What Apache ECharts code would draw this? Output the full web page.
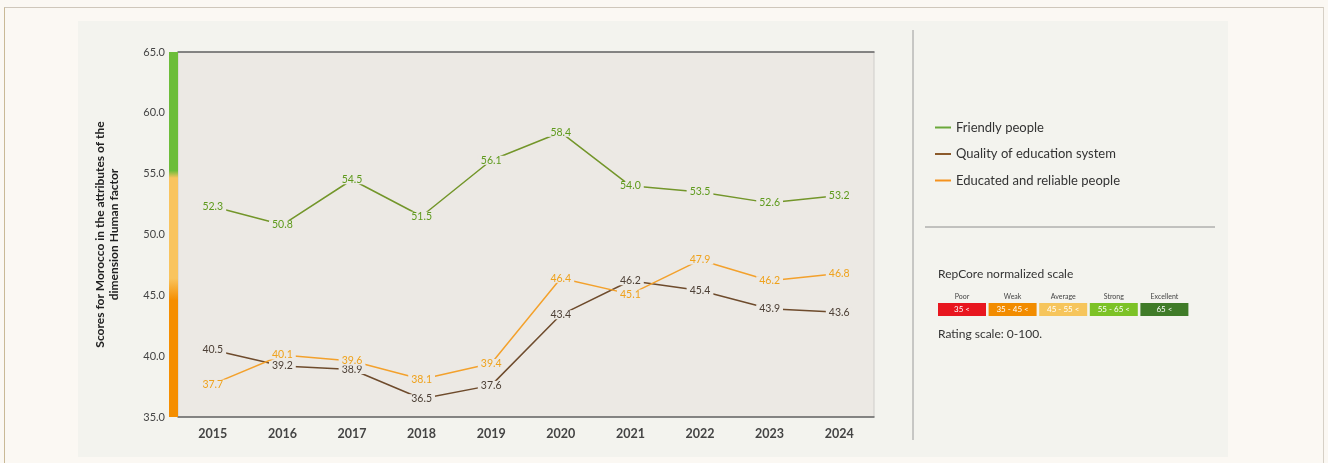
<!DOCTYPE html>
<html>
<head>
<meta charset="utf-8">
<script src="https://cdn.jsdelivr.net/npm/echarts@6/dist/echarts.min.js"></script>
<style>
  html, body { margin: 0; padding: 0; background: #fbf8f3; }
  #frame {
    position: absolute; left: 4px; top: 7px; width: 1320px; height: 470px;
    border-top: 1px solid #cfc7bb; border-left: 1px solid #c9b996; border-right: 1px solid #d6d0c6;
    box-sizing: border-box;
  }
  #chart { position: absolute; left: 0; top: 0; width: 1328px; height: 463px; }
</style>
</head>
<body>
<div id="frame"></div>
<div id="chart"></div>
<script>
// Years on the category axis
const years = ['2015', '2016', '2017', '2018', '2019', '2020', '2021', '2022', '2023', '2024'];

// Attribute scores per year
const friendlyPeople = [52.3, 50.8, 54.5, 51.5, 56.1, 58.4, 54.0, 53.5, 52.6, 53.2];
const educationSystem = [40.5, 39.2, 38.9, 36.5, 37.6, 43.4, 46.2, 45.4, 43.9, 43.6];
const educatedPeople = [37.7, 40.1, 39.6, 38.1, 39.4, 46.4, 45.1, 47.9, 46.2, 46.8];

// Value axis range and step
const yMin = 35, yMax = 65, yStep = 5;

// Rating scale legend
const scaleNames = ['Poor', 'Weak', 'Average', 'Strong', 'Excellent'];
const scaleRanges = ['35 <', '35 - 45 <', '45 - 55 <', '55 - 65 <', '65 <'];
const scaleColors = ['#e8161f', '#f28c00', '#f6c55c', '#7cc226', '#3f7b28'];

const FONT = 'Lato, "Open Sans", sans-serif';
const plotBg = '#ece9e4';

const chart = echarts.init(document.getElementById('chart'));

// Value labels sit on the points; a tight box in the plot colour breaks the line under them
function labelStyle(color) {
  return {
    show: true, position: 'inside', color: color, fontFamily: FONT, fontSize: 10.5,
    lineHeight: 9, backgroundColor: plotBg, padding: [0, 3],
    formatter: p => p.value.toFixed(1)
  };
}

// Legend for the rating scale, built as graphic elements
const scaleGraphics = [];
const bx = 938, bw = 48, gap = 2.6;
scaleNames.forEach((name, i) => {
  const x = bx + i * (bw + gap);
  scaleGraphics.push({
    type: 'rect', shape: { x: x, y: 303, width: bw, height: 13 },
    style: { fill: scaleColors[i] }
  });
  scaleGraphics.push({
    type: 'text', x: x + bw / 2, y: 297,
    style: { text: name, fill: '#444', font: '7px ' + FONT, textAlign: 'center', textVerticalAlign: 'middle' }
  });
  scaleGraphics.push({
    type: 'text', x: x + bw / 2, y: 309.5,
    style: { text: scaleRanges[i], fill: '#fff', font: '8px ' + FONT, textAlign: 'center', textVerticalAlign: 'middle' }
  });
});

function lineSeries(name, data, legendColor, lineColor, labelColor) {
  return {
    name: name, type: 'line', data: data,
    xAxisIndex: 0, yAxisIndex: 0,
    symbol: 'circle', symbolSize: 0, showSymbol: true,
    color: legendColor, lineStyle: { color: lineColor, width: 1.5 },
    label: labelStyle(labelColor),
    labelLayout: { hideOverlap: false }
  };
}

chart.setOption({
  animation: false,
  backgroundColor: 'transparent',
  textStyle: { fontFamily: FONT },
  graphic: [
    { type: 'rect', z: -10, shape: { x: 78, y: 21, width: 1150, height: 436 }, style: { fill: '#f3f3ee' } },
    { type: 'line', shape: { x1: 913, y1: 30, x2: 913, y2: 440 }, style: { stroke: '#9a9a9a', lineWidth: 1 } },
    { type: 'line', shape: { x1: 925, y1: 227, x2: 1215, y2: 227 }, style: { stroke: '#8e8e8e', lineWidth: 1 } },
    {
      type: 'text', x: 938, y: 274,
      style: { text: 'RepCore normalized scale', fill: '#333', font: '12px ' + FONT, textVerticalAlign: 'middle' }
    },
    {
      type: 'text', x: 938, y: 334,
      style: { text: 'Rating scale: 0-100.', fill: '#333', font: '12px ' + FONT, textVerticalAlign: 'middle' }
    },
    ...scaleGraphics
  ],
  legend: {
    orient: 'vertical', left: 930, top: 116, itemGap: 13.5,
    itemWidth: 16, itemHeight: 2, icon: 'rect',
    textStyle: { fontFamily: FONT, fontSize: 13, color: '#333' },
    data: ['Friendly people', 'Quality of education system', 'Educated and reliable people']
  },
  grid: [
    { left: 178, right: 454, top: 52, bottom: 46, show: true, backgroundColor: plotBg, borderColor: '#cfcdca', borderWidth: 1 },
    { left: 169, width: 9, top: 52, bottom: 46 }
  ],
  xAxis: [
    {
      type: 'category', data: years, gridIndex: 0, boundaryGap: true,
      axisLine: { lineStyle: { color: '#666', width: 1.5 } },
      axisTick: { alignWithLabel: true, length: 3, lineStyle: { color: '#888' } },
      axisLabel: { color: '#444', fontSize: 12.5, fontWeight: 'bold', margin: 10, fontFamily: FONT }
    },
    {
      type: 'category', data: years, gridIndex: 0, position: 'top',
      axisLine: { lineStyle: { color: '#666', width: 1.5 } },
      axisTick: { show: false }, axisLabel: { show: false }
    },
    { type: 'category', data: ['band'], gridIndex: 1, show: false }
  ],
  yAxis: [
    {
      type: 'value', gridIndex: 0, min: yMin, max: yMax, interval: yStep,
      axisLine: { show: false }, axisTick: { show: false }, splitLine: { show: false },
      axisLabel: { color: '#444', fontSize: 11, margin: 13, formatter: v => v.toFixed(1), fontFamily: FONT },
      name: 'Scores for Morocco in the attributes of the\ndimension Human factor',
      nameLocation: 'middle', nameGap: 57, nameRotate: 90,
      nameTextStyle: { color: '#222', fontSize: 12, fontWeight: 'bold', lineHeight: 14, fontFamily: FONT }
    },
    { type: 'value', gridIndex: 1, min: yMin, max: yMax, show: false }
  ],
  series: [
    lineSeries('Friendly people', friendlyPeople, '#6aa83a', '#73962a', '#5e9a1c'),
    lineSeries('Quality of education system', educationSystem, '#8b5a2b', '#6e4b2c', '#4d4036'),
    lineSeries('Educated and reliable people', educatedPeople, '#f5921e', '#f3a12c', '#efa21c'),
    {
      // Colour band along the value axis (orange / yellow / green zones)
      type: 'bar', xAxisIndex: 2, yAxisIndex: 1, data: [yMax], barWidth: '100%',
      silent: true, legendHoverLink: false,
      itemStyle: {
        color: new echarts.graphic.LinearGradient(0, 0, 0, 1, [
          { offset: 0, color: '#6cbd3a' },
          { offset: 0.325, color: '#6cbd3a' },
          { offset: 0.345, color: '#f9c45e' },
          { offset: 0.62, color: '#f9c45e' },
          { offset: 0.68, color: '#f58e00' },
          { offset: 1, color: '#f58e00' }
        ])
      }
    }
  ]
});
</script>
</body>
</html>
